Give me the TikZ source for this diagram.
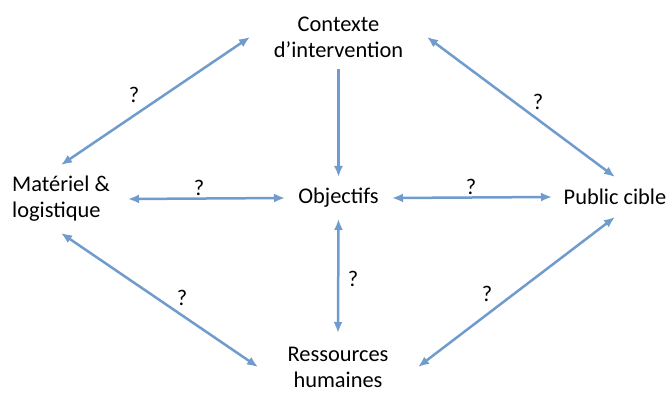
\documentclass[tikz,border=0pt]{standalone}
\usepackage{fontspec}
\setmainfont{Carlito}
\usepackage{xcolor}
\usetikzlibrary{arrows.meta}
\definecolor{linkblue}{RGB}{112,155,205}

\begin{document}
\begin{tikzpicture}[x=1pt,y=-1pt,
      every node/.style={font=\fontsize{22.4}{26}\selectfont,inner sep=0pt,outer sep=0pt},
      box/.style={align=center},
      qmark/.style={font=\fontsize{22.4}{26}\selectfont},
      link/.style={draw=linkblue,line width=2.5pt,{Latex[length=11pt,width=9pt]}-{Latex[length=11pt,width=9pt]}},
      onelink/.style={draw=linkblue,line width=2.5pt,-{Latex[length=11pt,width=9pt]}}]
      \useasboundingbox (0,0) rectangle (670,393);
      \node[box,minimum width=177pt,minimum height=64pt] (C) at (338.5,37) {Contexte\\d’intervention};
      \node[box,align=left,minimum width=134pt,minimum height=68pt] (M) at (61,199) {Matériel \&\\logistique};
      \node[box,minimum width=107pt,minimum height=42pt] (O) at (338.5,198) {Objectifs};
      \node[box,minimum width=126pt,minimum height=40pt] (P) at (615,197) {Public cible};
      \node[box,minimum width=160pt,minimum height=68pt] (R) at (338,367) {Ressources\\humaines};
      \draw[link] (C.west) -- (M.north);
      \draw[link] (C.east) -- (P.north);
      \draw[onelink] (C.south) -- (O.north);
      \draw[link] (M.east) -- (O.west);
      \draw[link] (O.east) -- (P.west);
      \draw[link] (O.south) -- (R.north);
      \draw[link] (M.south) -- (R.west);
      \draw[link] (R.east) -- (P.south);
      \node[qmark] (q1) at (134,95) {?};
      \node[qmark] (q2) at (538,102) {?};
      \node[qmark] (q3) at (199,188) {?};
      \node[qmark] (q4) at (471,187) {?};
      \node[qmark] (q5) at (353,279) {?};
      \node[qmark] (q6) at (182,298) {?};
      \node[qmark] (q7) at (487,294) {?};
    \end{tikzpicture}
\end{document}
